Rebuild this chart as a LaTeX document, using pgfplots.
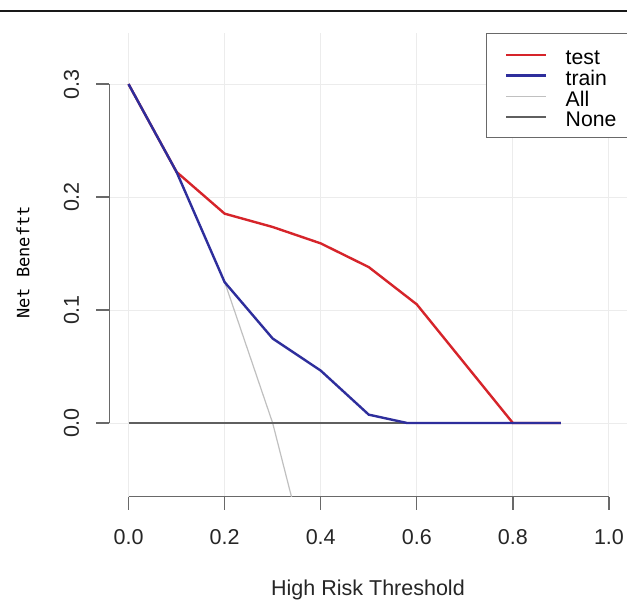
\documentclass[border=0pt]{standalone}
\usepackage{pgfplots}
\pgfplotsset{compat=1.18}
\usepackage{fontspec}
\setmainfont{Liberation Sans}
\newfontfamily\monofont{DejaVu Sans Mono}
\definecolor{testc}{RGB}{214,36,42}
\definecolor{trainc}{RGB}{46,46,156}
\definecolor{allc}{RGB}{192,192,192}
\definecolor{nonec}{RGB}{95,95,95}
\definecolor{gridc}{RGB}{236,236,236}
\definecolor{axc}{RGB}{105,105,105}
\begin{document}
\begin{tikzpicture}[x=1pt,y=1pt]
\useasboundingbox (0,0) rectangle (627,601);
\fill[white] (0,0) rectangle (627,601);
\draw[line width=2.6pt, black!90] (0,590) -- (627,590);
\begin{axis}[
  at={(109.3pt,104.3pt)}, anchor=south west,
  scale only axis, width=518.9pt, height=463.7pt,
  xmin=-0.04, xmax=1.04, ymin=-0.0652, ymax=0.3452,
  clip mode=individual,
  axis x line*=bottom, axis y line*=left,
  axis line style={draw=none},
  xtick={0,0.2,0.4,0.6,0.8,1.0},
  ytick={0,0.1,0.2,0.3},
  xtick pos=bottom, ytick pos=left,
  tick align=outside, major tick length=13pt,
  tick style={axc, line width=1.3pt},
  xtick style={axc, line width=1.3pt},
  ytick style={axc, line width=1.3pt},
  grid=major, major grid style={gridc, line width=1pt},
  /pgf/number format/.cd, fixed, fixed zerofill, precision=1, assume math mode=true,
  /pgfplots/.cd,
  ticklabel style={font=\fontsize{21.5pt}{21.5pt}\selectfont, text=black!85},
  xticklabel style={anchor=base, yshift=-35pt},
  yticklabel style={anchor=base, rotate=90, yshift=17.3pt},
  xlabel={High Risk Threshold},
  xlabel style={font=\fontsize{21.5pt}{21.5pt}\selectfont, text=black!85, at={(axis description cs:0.4985,-0.2135)}, anchor=base},
  ylabel={Net\ Beneftt},
  ylabel style={font=\monofont\fontsize{17pt}{17pt}\selectfont, text=black, at={(axis description cs:-0.154,0.505)}, anchor=base},
  legend style={at={(0.726,1)}, anchor=north west, draw=axc, line width=1pt,
    inner xsep=18.5pt, inner ysep=10.2pt, column sep=0pt,
    font=\fontsize{21.2pt}{21.2pt}\selectfont,
    nodes={inner sep=0pt, text height=20.8pt, text depth=0pt, anchor=base west}},
  legend cell align=left,
  legend image code/.code={\draw[#1] (0pt,9.7pt) -- (40pt,9.7pt); \path[draw=none] (0pt,0pt) -- (59.5pt,0pt);},
]
\draw[axc, line width=1.3pt] (axis cs:0,-0.0652) -- (axis cs:1,-0.0652);
\draw[axc, line width=1.3pt] (axis cs:-0.04,0) -- (axis cs:-0.04,0.3);
\addlegendimage{testc, line width=2.4pt}
\addlegendentry{test}
\addlegendimage{trainc, line width=2.4pt}
\addlegendentry{train}
\addlegendimage{allc, line width=1.2pt}
\addlegendentry{All}
\addlegendimage{nonec, line width=1.6pt}
\addlegendentry{None}
\addplot[allc, line width=1.2pt, forget plot] coordinates {
(0,0.3) (0.1,0.2222) (0.2,0.125) (0.3,0) (0.4,-0.1667)};
\addplot[nonec, line width=1.6pt, forget plot] coordinates {(0,0) (0.9,0)};
\addplot[testc, line width=2.4pt, forget plot] coordinates {
(0,0.3) (0.1,0.2222) (0.2,0.1853) (0.3,0.1735) (0.4,0.159) (0.5,0.138) (0.6,0.105) (0.7,0.0525) (0.8,0) (0.9,0)};
\addplot[trainc, line width=2.4pt, forget plot] coordinates {
(0,0.3) (0.1,0.2222) (0.2,0.1247) (0.3,0.0748) (0.4,0.0464) (0.5,0.0074) (0.58,0) (0.9,0)};
\end{axis}
\end{tikzpicture}
\end{document}
